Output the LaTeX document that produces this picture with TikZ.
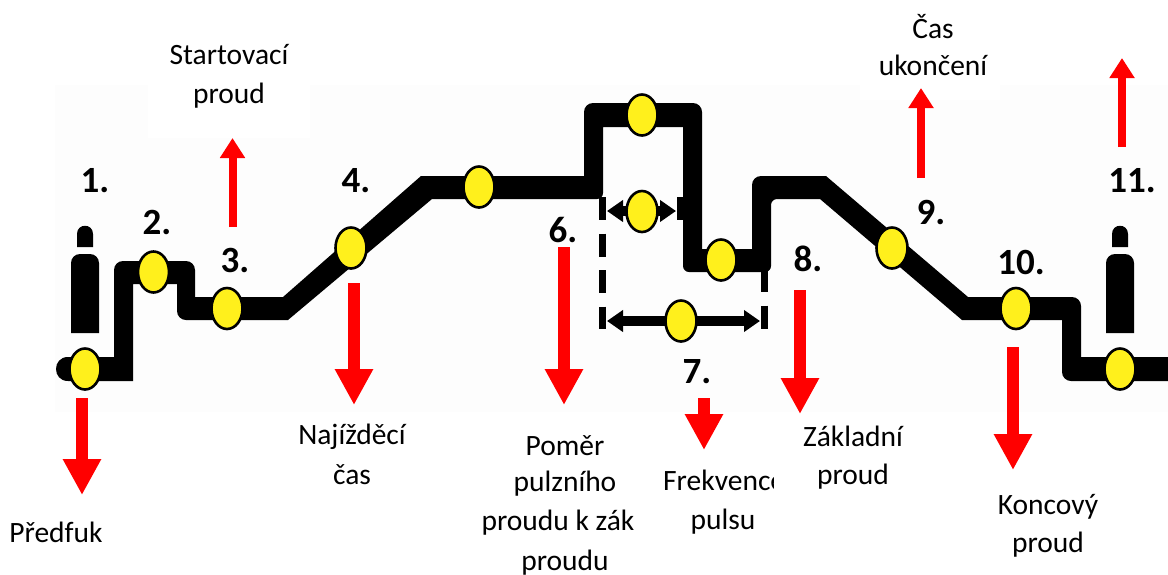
\documentclass[tikz,border=0pt]{standalone}
\usepackage{fontspec}
\setmainfont{Carlito}
\usetikzlibrary{arrows.meta,shapes.geometric}
\definecolor{padyellow}{HTML}{FFF01C}
\definecolor{redarrow}{HTML}{FF0000}
\definecolor{faint}{HTML}{FDFDFD}
\tikzset{
  x=1pt,y=-1pt,
  dot/.style={ellipse,draw=black,line width=2.6pt,fill=padyellow,minimum width=31pt,minimum height=41pt,inner sep=0pt},
  biglabel/.style={font=\fontsize{29.5}{29.5}\selectfont,text=black,inner sep=0pt,anchor=center},
  numlabel/.style={font=\fontsize{37}{37}\selectfont\bfseries,text=black,inner sep=0pt,anchor=center},
  bigarrow/.style={draw=redarrow,line width=12pt,-{Triangle[length=36pt,width=36pt,fill=redarrow]}},
  smallarrow/.style={draw=redarrow,line width=8pt,-{Triangle[length=20pt,width=24pt,fill=redarrow]}},
  dimarrow/.style={draw=black,line width=10pt,{Triangle[length=16pt,width=21pt]}-{Triangle[length=16pt,width=21pt]}},
  dimdash/.style={draw=black,line width=7.5pt,dash pattern=on 23pt off 13.5pt},
}
\begin{document}
\begin{tikzpicture}
\useasboundingbox (0,0) rectangle (1168,574);
\fill[white] (0,0) rectangle (1168,574);
\fill[faint] (55,85) rectangle (1168,412);
\fill[white] (148,85) rectangle (310,138);
\fill[white] (860,85) rectangle (1000,100);

% dashed dimension lines
\coordinate (dl1) at (602.5,197); \coordinate (dl2) at (602.5,329);
\coordinate (dr1) at (764.5,269); \coordinate (dr2) at (764.5,329);
\coordinate (ds1) at (680.5,197); \coordinate (ds2) at (680.5,220);
\draw[dimdash] (dl1) -- (dl2);
\draw[dimdash] (dr1) -- (dr2);
\draw[black,line width=7pt] (ds1) -- (ds2);

% welding program ribbon
\fill[black] (68,381) .. controls (52,381) and (52,357) .. (68,357)
  -- (114,357) [rounded corners=9pt] -- (114,261) -- (195,261) [sharp corners] -- (195,297)
  -- (283,297) -- (421,176) -- (584,176) [rounded corners=9pt] -- (584,103) -- (702,103) [sharp corners] -- (702,249)
  -- (752,249) [rounded corners=9pt] -- (752,176) [sharp corners] -- (826,176) -- (968,297) [rounded corners=9pt] -- (1081,297) [sharp corners] -- (1081,357)
  -- (1168,357) -- (1168,381) [rounded corners=9pt] -- (1062,381) [sharp corners] -- (1062,320)
  -- (962,320) -- (820,199) [rounded corners=6pt] -- (771,199) -- (771,272) -- (683,272) [sharp corners] -- (683,127)
  -- (603,127) [rounded corners=6pt] -- (603,199) [sharp corners] -- (432,199) -- (288,320) [rounded corners=9pt] -- (177,320) [sharp corners] -- (177,284)
  -- (133,284) -- (133,381) -- cycle;

% gas cylinders
\fill[black] (71,333) [rounded corners=9pt] -- (71,254) -- (99,254) [sharp corners] -- (99,333) -- cycle;
\fill[black] (77,247) -- (77,234) .. controls (77,223) and (93,223) .. (93,234) -- (93,247) -- cycle;
\fill[black] (1106,333) [rounded corners=9pt] -- (1106,254) -- (1134,254) [sharp corners] -- (1134,333) -- cycle;
\fill[black] (1112,247) -- (1112,234) .. controls (1112,223) and (1128,223) .. (1128,234) -- (1128,247) -- cycle;

% dimension arrows
\coordinate (a1) at (607,211); \coordinate (a2) at (676,211);
\coordinate (b1) at (607,321); \coordinate (b2) at (760,321);
\draw[dimarrow] (a1) -- (a2);
\draw[dimarrow] (b1) -- (b2);

% yellow points
\node[dot] (p1) at (85,369) {};
\node[dot] (p2) at (153.5,272) {};
\node[dot] (p3) at (227,308.5) {};
\node[dot] (p4) at (351,248) {};
\node[dot] (p5) at (479,187) {};
\node[dot] (p6) at (642,115) {};
\node[dot] (p7) at (642,211.5) {};
\node[dot] (p8) at (721,260) {};
\node[dot] (p9) at (681,321) {};
\node[dot] (p10) at (892,248) {};
\node[dot] (p11) at (1016,308.5) {};
\node[dot] (p12) at (1120,369) {};

% red arrows
\coordinate (r1a) at (82,398);  \coordinate (r1b) at (82,495);
\coordinate (r2a) at (232.5,227); \coordinate (r2b) at (232.5,138);
\coordinate (r3a) at (354,283); \coordinate (r3b) at (354,405);
\coordinate (r4a) at (564,247); \coordinate (r4b) at (564,405);
\coordinate (r5a) at (704,398); \coordinate (r5b) at (704,450);
\coordinate (r6a) at (800,290); \coordinate (r6b) at (800,414);
\coordinate (r7a) at (921,178); \coordinate (r7b) at (921,88);
\coordinate (r8a) at (1013,347); \coordinate (r8b) at (1013,470);
\coordinate (r9a) at (1122,147); \coordinate (r9b) at (1122,58);
\draw[bigarrow] (r1a) -- (r1b);
\draw[smallarrow] (r2a) -- (r2b);
\draw[bigarrow] (r3a) -- (r3b);
\draw[bigarrow] (r4a) -- (r4b);
\draw[bigarrow] (r5a) -- (r5b);
\draw[bigarrow] (r6a) -- (r6b);
\draw[smallarrow] (r7a) -- (r7b);
\draw[bigarrow] (r8a) -- (r8b);
\draw[smallarrow] (r9a) -- (r9b);

% numbers
\node[numlabel] (n1) at (95,181) {1.};
\node[numlabel] (n2) at (157,222) {2.};
\node[numlabel] (n3) at (235,260) {3.};
\node[numlabel] (n4) at (356,181) {4.};
\node[numlabel] (n6) at (563,230) {6.};
\node[numlabel] (n7) at (697,372) {7.};
\node[numlabel] (n8) at (808,259) {8.};
\node[numlabel] (n9) at (931,212) {9.};
\node[numlabel] (n10) at (1021,262) {10.};
\node[numlabel] (n11) at (1132,181) {11.};

% captions
\node[biglabel] (t1) at (56,532) {Předfuk};
\node[biglabel] (t2) at (229,55) {Startovací};
\node[biglabel] (t3) at (229,96) {proud};
\node[biglabel] (t4) at (352,437) {Najížděcí};
\node[biglabel] (t5) at (352,475) {čas};
\node[biglabel] (t6) at (565,446) {Poměr};
\node[biglabel] (t7) at (565,484) {pulzního};
\node[biglabel] (t8) at (558,523) {proudu k zák};
\node[biglabel] (t9) at (565,563) {proudu};
\begin{scope}
\clip (640,460) rectangle (773,500);
\node[biglabel,anchor=base west] (t10) at (663,490) {Frekvence};
\end{scope}
\node[biglabel] (t11) at (723,522) {pulsu};
\node[biglabel] (t12) at (853,436) {Základní};
\node[biglabel] (t13) at (853,477) {proud};
\node[biglabel] (t14) at (1048,507) {Koncový};
\node[biglabel] (t15) at (1048,545) {proud};
\node[biglabel] (t16) at (933,27) {Čas};
\node[biglabel] (t17) at (933,65) {ukončení};
\end{tikzpicture}
\end{document}
